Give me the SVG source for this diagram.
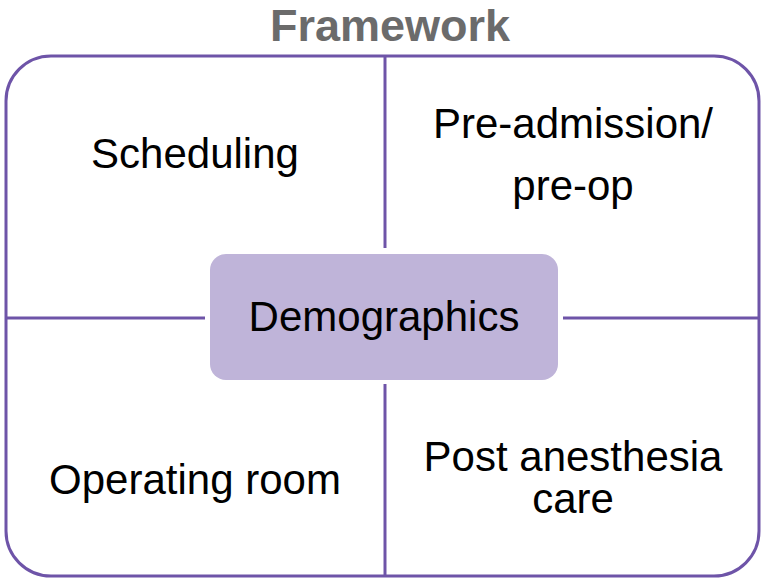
<svg xmlns="http://www.w3.org/2000/svg" width="761" height="578" viewBox="0 0 761 578">
<style>
.t{font-family:"Liberation Sans",Arial,sans-serif;font-size:42px;fill:#000;text-anchor:middle}
.ln{stroke:#6e54a8;stroke-width:3;fill:none}
</style>
<rect width="761" height="578" fill="#fff"/>
<text x="390" y="41" style="font-family:'Liberation Sans',Arial,sans-serif;font-size:45px;font-weight:bold;fill:#6b6b6b;text-anchor:middle">Framework</text>
<g id="frame"><rect class="ln" x="6" y="56" width="753" height="520" rx="45"/></g>
<g id="connectors">
<line class="ln" x1="385" y1="57" x2="385" y2="248"/>
<line class="ln" x1="385" y1="384" x2="385" y2="575"/>
<line class="ln" x1="7" y1="318" x2="205" y2="318"/>
<line class="ln" x1="563" y1="318" x2="758" y2="318"/>
</g>
<g id="scheduling"><text class="t" x="195" y="168">Scheduling</text></g>
<g id="preadmission"><text class="t" x="573" y="138">Pre-admission/</text><text class="t" x="573" y="200">pre-op</text></g>
<g id="operating"><text class="t" x="195" y="494">Operating room</text></g>
<g id="postanesthesia"><text class="t" x="573" y="471">Post anesthesia</text><text class="t" x="573" y="513">care</text></g>
<g id="demographics"><rect x="210" y="254" width="348" height="126" rx="16" fill="#bfb4d9"/><text class="t" x="384" y="331">Demographics</text></g>
</svg>
